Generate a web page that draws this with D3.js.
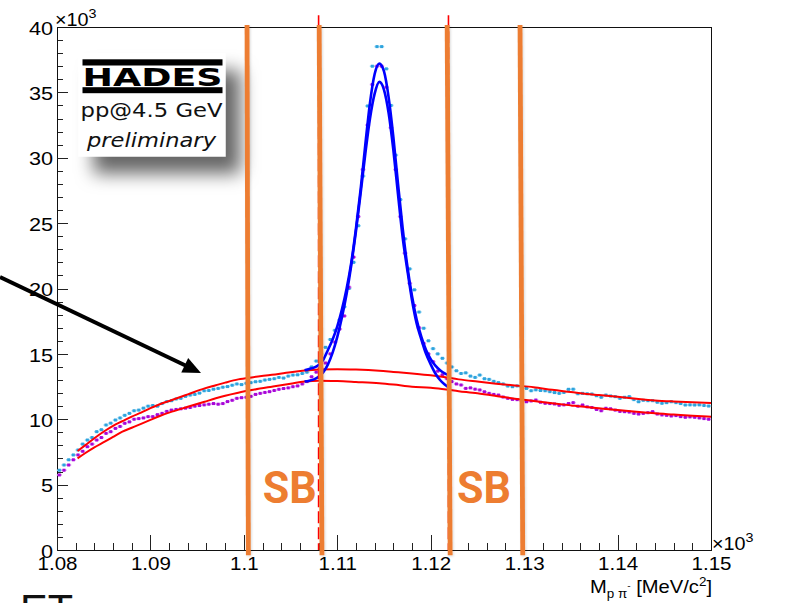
<!DOCTYPE html>
<html>
<head>
<meta charset="utf-8">
<script src="https://cdn.jsdelivr.net/npm/d3@7"></script>
<style>
  html, body { margin: 0; padding: 0; background: #fff; }
  svg { display: block; }
</style>
</head>
<body>
<svg id="chart" width="787" height="603"></svg>
<script>
// ---- p pi- invariant mass spectra (counts in units of 10^3 per 0.5 MeV bin) ----
const xDomain = [1.08, 1.15];
const yDomain = [0, 40];
const binLow = 1.08;
const binWidth = 0.0005;

const cyanCounts = [
  6.1, 6.5, 6.9, 7.27, 7.65, 8.1, 8.41, 8.6, 9.05, 9.2,
  9.56, 9.7, 9.94, 10.1, 10.3, 10.45, 10.65, 10.7, 10.85, 11.0,
  11.05, 11.0, 11.2, 11.35, 11.42, 11.55, 11.6, 11.75, 11.85, 11.9,
  12.0, 12.18, 12.2, 12.3, 12.36, 12.45, 12.5, 12.6, 12.7, 12.65,
  12.75, 12.8, 12.87, 12.9, 13.0, 13.05, 13.1, 13.2, 13.15, 13.3,
  13.38, 13.4, 13.5, 13.6, 14.0, 14.45, 15.0, 15.5, 16.1, 16.8,
  17.6, 18.6, 20.0, 22.0, 24.8, 28.6, 33.96, 37.0, 38.5, 38.5,
  36.8, 34.0, 30.2, 26.8, 23.8, 21.5, 19.9, 18.2, 16.96, 16.0,
  15.4, 15.0, 14.66, 14.3, 14.0, 13.71, 13.5, 13.55, 13.3, 13.2,
  13.38, 13.1, 13.05, 12.9, 12.8, 12.7, 12.54, 12.49, 12.55, 12.45,
  12.36, 12.18, 12.25, 12.2, 12.18, 12.11, 12.04, 11.98, 12.05, 12.29,
  12.3, 11.95, 11.98, 11.95, 11.93, 11.8, 11.68, 11.85, 11.78, 11.73,
  11.6, 11.68, 11.73, 11.5, 11.34, 11.45, 11.42, 11.42, 11.3, 11.22,
  11.27, 11.34, 11.27, 11.2, 11.09, 11.1, 11.09, 11.1, 11.05, 11.01
];

const magentaCounts = [
  5.74, 6.1, 6.5, 6.9, 7.27, 7.55, 7.9, 8.1, 8.41, 8.6,
  8.92, 9.05, 9.3, 9.45, 9.69, 9.8, 10.0, 10.05, 10.1, 10.2,
  10.2, 10.35, 10.45, 10.6, 10.7, 10.75, 10.8, 10.85, 10.9, 11.0,
  11.05, 11.1, 11.15, 11.2, 11.15, 11.2, 11.35, 11.45, 11.6, 11.65,
  11.68, 11.75, 11.9, 11.98, 12.05, 12.11, 12.2, 12.29, 12.35, 12.4,
  12.49, 12.55, 12.7, 12.88, 13.25, 13.6, 13.9, 14.3, 15.0, 15.9,
  16.9, 17.9, 20.1, 22.4, 25.5, 29.1, 32.5, 35.6, 37.0, 37.0,
  35.4, 32.3, 29.1, 25.5, 22.7, 20.4, 18.7, 17.0, 15.8, 15.0,
  14.4, 13.68, 13.4, 13.1, 12.88, 12.7, 12.62, 12.36, 12.4, 12.3,
  12.24, 12.1, 11.98, 11.9, 11.85, 11.7, 11.6, 11.52, 11.5, 11.4,
  11.34, 11.4, 11.47, 11.3, 11.22, 11.2, 11.17, 11.07, 11.1, 11.2,
  11.27, 11.0, 11.09, 10.95, 10.9, 10.75, 10.65, 10.84, 10.8, 10.7,
  10.6, 10.58, 10.55, 10.45, 10.4, 10.45, 10.5, 10.58, 10.4, 10.33,
  10.3, 10.25, 10.28, 10.2, 10.15, 10.18, 10.15, 10.1, 10.05, 10.0
];

// signal + background fits around the Lambda peak
const fitMass = [
  1.1065, 1.1070, 1.1075, 1.1080, 1.1085, 1.1090, 1.1095, 1.1100, 1.1105, 1.1110,
  1.1115, 1.1120, 1.1125, 1.1130, 1.1135, 1.1140, 1.1145, 1.1150, 1.1155, 1.1160,
  1.1165, 1.1170, 1.1175, 1.1180, 1.1185, 1.1190, 1.1195, 1.1200, 1.1205, 1.1210,
  1.1215, 1.1220
];
const fitCyan = [
  13.75, 13.85, 13.95, 14.15, 14.55, 15.3, 16.1, 17.1, 18.4, 20.0,
  22.0, 24.6, 27.6, 31.0, 34.2, 36.4, 37.2, 36.6, 34.6, 31.6,
  28.0, 24.6, 21.7, 19.4, 17.6, 16.3, 15.3, 14.6, 14.1, 13.75,
  13.5, 13.35
];
const fitMagenta = [
  12.88, 12.95, 13.05, 13.25, 13.6, 14.2, 15.1, 16.3, 17.8, 19.6,
  21.8, 24.4, 27.3, 30.3, 33.0, 34.9, 35.8, 35.2, 33.4, 30.6,
  27.2, 23.9, 21.4, 19.1, 17.3, 16.1, 15.0, 14.2, 13.5, 13.0,
  12.65, 12.4
];

// background-only fits over the full range
const bgMass = [
  1.0822, 1.0830, 1.0840, 1.0851, 1.0860, 1.0870, 1.0880, 1.0890, 1.0900, 1.0910,
  1.0923, 1.0940, 1.0958, 1.0970, 1.0980, 1.0994, 1.1010, 1.1030, 1.1050, 1.1065,
  1.1080, 1.1100, 1.1120, 1.1145, 1.1160, 1.1180, 1.1200, 1.1212, 1.1230, 1.1250,
  1.1270, 1.1290, 1.1310, 1.1330, 1.1350, 1.1367, 1.1380, 1.1400, 1.1420, 1.1440,
  1.1460, 1.1480, 1.1500
];
const bgCyan = [
  7.57, 8.0, 8.55, 9.10, 9.5, 9.85, 10.2, 10.5, 10.85, 11.15,
  11.47, 11.9, 12.36, 12.6, 12.8, 13.05, 13.22, 13.4, 13.6, 13.72,
  13.8, 13.83, 13.8, 13.71, 13.62, 13.5, 13.36, 13.25, 13.05, 12.88,
  12.72, 12.58, 12.45, 12.25, 12.08, 11.93, 11.85, 11.72, 11.57, 11.44,
  11.36, 11.3, 11.25
];
const bgMagenta = [
  7.01, 7.4, 7.85, 8.28, 8.65, 9.05, 9.35, 9.65, 9.95, 10.25,
  10.58, 10.95, 11.34, 11.6, 11.8, 12.03, 12.25, 12.49, 12.72, 12.88,
  12.95, 12.92, 12.85, 12.75, 12.65, 12.49, 12.4, 12.31, 12.15, 11.98,
  11.78, 11.57, 11.4, 11.22, 11.06, 10.93, 10.85, 10.7, 10.57, 10.45,
  10.36, 10.27, 10.2
];

const xTicks = [1.08, 1.09, 1.10, 1.11, 1.12, 1.13, 1.14, 1.15];
const xTickLabels = ["1.08", "1.09", "1.1", "1.11", "1.12", "1.13", "1.14", "1.15"];
const yTicks = [0, 5, 10, 15, 20, 25, 30, 35, 40];
const yTickLabels = ["0", "5", "10", "15", "20", "25", "30", "35", "40"];

// sideband borders (top / bottom end of each marker line) and signal window
const sidebandTop = [1.10034, 1.10806, 1.12176, 1.12956];
const sidebandBottom = [1.10048, 1.10836, 1.12208, 1.12985];
const signalWindow = [1.1080, 1.1219];
const sbLabelMass = [1.1049, 1.1257];
const sbLabels = ["SB", "SB"];

// ---- drawing ----
const svg = d3.select("#chart");
const x = d3.scaleLinear().domain(xDomain).range([57, 711]);
const y = d3.scaleLinear().domain(yDomain).range([550, 27]);

const defs = svg.append("defs");
const boxShadow = defs.append("filter").attr("id", "boxShadow")
  .attr("x", "-30%").attr("y", "-30%").attr("width", "180%").attr("height", "190%");
boxShadow.append("feDropShadow").attr("dx", 15).attr("dy", 17)
  .attr("stdDeviation", 9).attr("flood-color", "#000").attr("flood-opacity", 0.6);
const lineShadow = defs.append("filter").attr("id", "lineShadow")
  .attr("x", "-200%").attr("y", "-5%").attr("width", "500%").attr("height", "110%");
lineShadow.append("feDropShadow").attr("dx", 1).attr("dy", 1)
  .attr("stdDeviation", 1).attr("flood-color", "#000").attr("flood-opacity", 0.15);

const FONT = "'Liberation Sans', Arial, Helvetica, sans-serif";

function stretchText(sel, k) {
  sel.each(function () {
    const w = this.getComputedTextLength();
    d3.select(this).attr("textLength", w * k).attr("lengthAdjust", "spacingAndGlyphs");
  });
}

// axes
const yMinor = d3.axisLeft(y).tickValues(d3.range(0, 41, 1)).tickSize(-6).tickFormat("");
const yMajor = d3.axisLeft(y).tickValues(yTicks).tickSize(-11).tickSizeOuter(0)
  .tickPadding(4).tickFormat((d, i) => yTickLabels[i]);
const xMinor = d3.axisBottom(x).tickValues(d3.range(0, 36).map(i => 1.08 + i * 0.002))
  .tickSize(-7.5).tickFormat("");
const xMajor = d3.axisBottom(x).tickValues(xTicks).tickSize(-15).tickSizeOuter(0)
  .tickPadding(6.5).tickFormat((d, i) => xTickLabels[i]);

const axisG = svg.append("g").attr("shape-rendering", "crispEdges");
axisG.append("g").attr("transform", "translate(57,0)").call(yMinor)
  .call(g => g.select(".domain").remove());
const gy = axisG.append("g").attr("transform", "translate(57,0)").call(yMajor);
axisG.append("g").attr("transform", "translate(0,550)").call(xMinor)
  .call(g => g.select(".domain").remove());
const gx = axisG.append("g").attr("transform", "translate(0,550)").call(xMajor);
axisG.selectAll(".tick line").attr("stroke", "#222");
axisG.selectAll(".domain").attr("stroke", "#111");
[gx, gy].forEach(g => g.selectAll("text")
  .attr("font-family", FONT).attr("font-size", 19).attr("fill", "#000"));
gy.selectAll("text").attr("dy", "0.38em");
stretchText(gx.selectAll("text"), 1.08);
stretchText(gy.selectAll("text"), 1.14);

// frame (top and right)
axisG.append("path")
  .attr("d", `M${x(xDomain[0])},${y(yDomain[1])}H${x(xDomain[1])}V${y(yDomain[0])}`)
  .attr("fill", "none").attr("stroke", "#111").attr("stroke-width", 1);

// exponent labels
svg.append("g").attr("transform", `translate(${x(xDomain[0]) - 2},26) scale(1.1,1)`)
  .append("text").attr("font-family", FONT).attr("font-size", 18).attr("fill", "#000")
  .call(t => { t.append("tspan").text("×10"); t.append("tspan").attr("dy", -8).attr("font-size", 13).text("3"); });
svg.append("g").attr("transform", `translate(${x(xDomain[1]) + 1},550) scale(1.1,1)`)
  .append("text").attr("font-family", FONT).attr("font-size", 18).attr("fill", "#000")
  .call(t => { t.append("tspan").text("×10"); t.append("tspan").attr("dy", -8).attr("font-size", 13).text("3"); });

// axis title
svg.append("g").attr("transform", `translate(${x(xDomain[1]) + 1},593) scale(1.12,1)`)
  .append("text").attr("text-anchor", "end").attr("font-family", FONT)
  .attr("font-size", 18).attr("fill", "#000")
  .call(t => {
    t.append("tspan").text("M");
    t.append("tspan").attr("dy", 5).attr("font-size", 12).text("p π");
    t.append("tspan").attr("dy", -9).attr("font-size", 9).text("-");
    t.append("tspan").attr("dy", 4).attr("font-size", 18).text(" [MeV/c");
    t.append("tspan").attr("dy", -7).attr("font-size", 12).text("2");
    t.append("tspan").attr("dy", 7).attr("font-size", 18).text("]");
  });

// data markers
const binCenter = i => binLow + (i + 0.5) * binWidth;
function drawPoints(counts, armColor, coreColor) {
  const g = svg.append("g");
  const pts = g.selectAll("g").data(counts).join("g")
    .attr("transform", (d, i) => `translate(${x(binCenter(i))},${y(d)})`);
  pts.append("line").attr("x1", -2.5).attr("x2", 2.5)
    .attr("stroke", armColor).attr("stroke-width", 1.6);
  pts.append("rect").attr("x", -1.5).attr("y", -1.5).attr("width", 3).attr("height", 3)
    .attr("fill", coreColor);
}
drawPoints(cyanCounts, "#8fd4f3", "#2ea3dd");
drawPoints(magentaCounts, "#d68af0", "#a806d8");

// fit curves
const curveGen = (xs) => d3.line().x((d, i) => x(xs[i])).y(d => y(d)).curve(d3.curveMonotoneX);
[bgCyan, bgMagenta].forEach(vals => {
  svg.append("path").attr("d", curveGen(bgMass)(vals))
    .attr("fill", "none").attr("stroke", "#ff0000").attr("stroke-width", 2);
});
[fitCyan, fitMagenta].forEach(vals => {
  svg.append("path").attr("d", curveGen(fitMass)(vals))
    .attr("fill", "none").attr("stroke", "#0000ff").attr("stroke-width", 2.6)
    .attr("stroke-linejoin", "round");
});

// HADES label box
const logo = svg.append("g");
logo.append("rect").attr("x", 78.5).attr("y", 53.5).attr("width", 147).attr("height", 103)
  .attr("fill", "#fff").attr("filter", "url(#boxShadow)");
logo.append("rect").attr("x", 82.5).attr("y", 59.3).attr("width", 140).attr("height", 6.2).attr("fill", "#000");
logo.append("rect").attr("x", 82.5).attr("y", 87.2).attr("width", 140).attr("height", 6).attr("fill", "#000");
logo.append("text").attr("x", 82.5).attr("y", 86.2).attr("font-family", "'DejaVu Sans', sans-serif")
  .attr("font-weight", "bold").attr("font-size", 25.5).attr("fill", "#000")
  .attr("textLength", 140).attr("lengthAdjust", "spacingAndGlyphs").text("HADES");
logo.append("text").attr("x", 80.5).attr("y", 116.5).attr("font-family", "'DejaVu Sans', sans-serif")
  .attr("font-size", 20).attr("fill", "#111")
  .attr("textLength", 142).attr("lengthAdjust", "spacingAndGlyphs").text("pp@4.5 GeV");
logo.append("text").attr("x", 87).attr("y", 146.5).attr("font-family", "'DejaVu Sans', sans-serif")
  .attr("font-size", 20).attr("font-style", "italic").attr("fill", "#111")
  .attr("textLength", 129).attr("lengthAdjust", "spacingAndGlyphs").text("preliminary");

// signal window borders
svg.append("g").selectAll("line").data(signalWindow).join("line")
  .attr("x1", d => x(d)).attr("x2", d => x(d))
  .attr("y1", y(40.9)).attr("y2", y(0))
  .attr("stroke", "#ff0000").attr("stroke-width", 1.6).attr("stroke-dasharray", "12,4");

// sideband borders
svg.append("g").attr("filter", "url(#lineShadow)").selectAll("line").data(sidebandTop).join("line")
  .attr("x1", d => x(d)).attr("x2", (d, i) => x(sidebandBottom[i]))
  .attr("y1", y(40.15)).attr("y2", y(-0.4))
  .attr("stroke", "#ED7D31").attr("stroke-width", 4.8);

svg.append("g").selectAll("text").data(sbLabelMass).join("text")
  .attr("x", d => x(d)).attr("y", y(3.62)).attr("text-anchor", "middle")
  .attr("font-family", "Roboto, 'Liberation Sans', sans-serif").attr("font-weight", "bold")
  .attr("font-size", 44).attr("fill", "#ED7D31")
  .attr("textLength", 54).attr("lengthAdjust", "spacingAndGlyphs")
  .text((d, i) => sbLabels[i]);

// arrow pointing at the background fits
const arrowFrom = [1.0739, 20.88];
const arrowTo = [1.09541, 13.54];
const ax0 = x(arrowFrom[0]), ay0 = y(arrowFrom[1]);
const ax1 = x(arrowTo[0]), ay1 = y(arrowTo[1]);
const ang = Math.atan2(ay1 - ay0, ax1 - ax0);
const headLen = 18, headHalf = 8;
svg.append("line")
  .attr("x1", ax0).attr("y1", ay0)
  .attr("x2", ax1 - Math.cos(ang) * (headLen - 2)).attr("y2", ay1 - Math.sin(ang) * (headLen - 2))
  .attr("stroke", "#000").attr("stroke-width", 4);
const bx = ax1 - Math.cos(ang) * headLen, by = ay1 - Math.sin(ang) * headLen;
svg.append("path")
  .attr("d", `M${ax1},${ay1}L${bx - Math.sin(ang) * headHalf},${by + Math.cos(ang) * headHalf}` +
             `L${bx + Math.sin(ang) * headHalf},${by - Math.cos(ang) * headHalf}Z`)
  .attr("fill", "#000");

// clipped heading text at the bottom edge
svg.append("text").attr("x", 20).attr("y", 624).attr("font-family", FONT)
  .attr("font-size", 42).attr("fill", "#111")
  .attr("textLength", 53).attr("lengthAdjust", "spacingAndGlyphs").text("ET");
</script>
</body>
</html>
